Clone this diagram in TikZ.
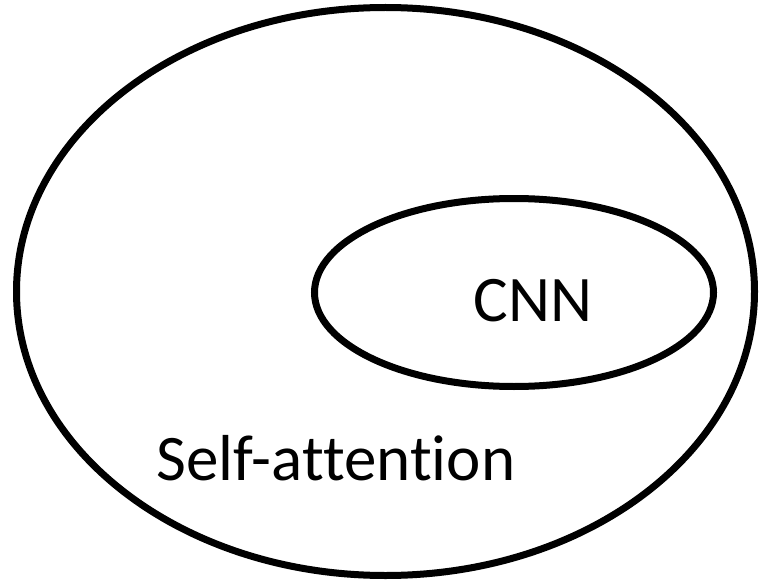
\documentclass[tikz,border=0pt]{standalone}
\usepackage{fontspec}
\setmainfont{Carlito}[Ligatures=NoCommon]
\usetikzlibrary{shapes.geometric}

\begin{document}
\begin{tikzpicture}[x=1pt, y=-1pt,
  set/.style={draw, ellipse, line width=7pt, inner sep=0pt},
  lbl/.style={font=\fontsize{65}{70}\selectfont, inner sep=0pt},
]
\useasboundingbox (0,0) rectangle (763,583);
% outer set and inner set
\node[set, minimum width=738pt, minimum height=568pt] (sa)  at (385.5,291.5) {};
\node[set, minimum width=399pt, minimum height=188pt] (cnn) at (514,292.5) {};
% labels
\node[lbl] (cnnlbl) at (533,301) {CNN};
\node[lbl] (salbl)  at (336,458) {Self-attention};
\end{tikzpicture}
\end{document}
